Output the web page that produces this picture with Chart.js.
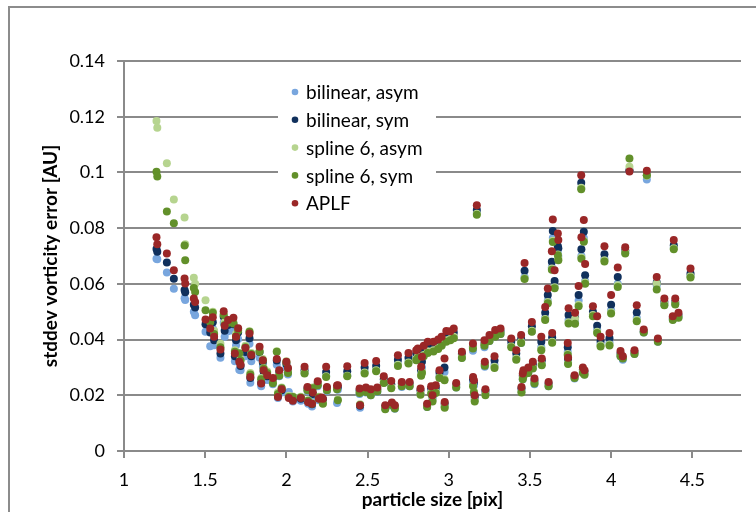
<!DOCTYPE html>
<html>
<head>
<meta charset="utf-8">
<script src="https://cdn.jsdelivr.net/npm/chart.js@4/dist/chart.umd.min.js"></script>
<style>
  html, body { margin: 0; padding: 0; background: #fff; }
  #wrap { position: relative; width: 756px; height: 512px; overflow: hidden; }
  #frame { position: absolute; left: 8px; top: 6px; width: 800px; height: 600px; border: 2px solid #8c8c8c; }
  canvas { position: absolute; left: 0; top: 0; }
</style>
</head>
<body>
<div id="wrap"><div id="frame"></div><canvas id="chart" width="756" height="512"></canvas></div>
<script>
const FONT = 'Lato, "Open Sans", sans-serif'

const particleSize = [
  1.200, 1.205, 1.264, 1.307, 1.373, 1.377, 1.430, 1.438, 1.502, 1.531,
  1.547, 1.555, 1.594, 1.614, 1.620, 1.641, 1.674, 1.683, 1.690, 1.703,
  1.710, 1.718, 1.748, 1.773, 1.778, 1.784, 1.835, 1.845, 1.855, 1.860,
  1.882, 1.917, 1.941, 1.948, 1.956, 1.971, 2.000, 2.010, 2.015, 2.040,
  2.089, 2.112, 2.130, 2.134, 2.158, 2.163, 2.193, 2.200, 2.217, 2.225,
  2.245, 2.250, 2.312, 2.317, 2.375, 2.451, 2.454, 2.482, 2.490, 2.520,
  2.553, 2.560, 2.600, 2.609, 2.646, 2.650, 2.668, 2.687, 2.711, 2.752,
  2.759, 2.800, 2.810, 2.826, 2.830, 2.835, 2.846, 2.867, 2.871, 2.892,
  2.900, 2.906, 2.920, 2.935, 2.943, 2.956, 2.974, 2.975, 2.985, 3.010,
  3.031, 3.046, 3.081, 3.149, 3.150, 3.155, 3.160, 3.173, 3.220, 3.222,
  3.226, 3.251, 3.282, 3.286, 3.319, 3.385, 3.416, 3.446, 3.448, 3.456,
  3.460, 3.467, 3.490, 3.512, 3.518, 3.528, 3.570, 3.573, 3.594, 3.610,
  3.615, 3.635, 3.637, 3.641, 3.652, 3.672, 3.675, 3.733, 3.735, 3.738,
  3.775, 3.778, 3.800, 3.816, 3.817, 3.826, 3.832, 3.836, 3.840, 3.888,
  3.914, 3.935, 3.959, 3.990, 4.000, 4.041, 4.058, 4.072, 4.087, 4.113,
  4.144, 4.158, 4.201, 4.220, 4.281, 4.288, 4.328, 4.380, 4.386, 4.395, 4.415, 4.489,
]

const aplf = [
  0.0767, 0.0742, 0.0709, 0.0649, 0.0619, 0.0601, 0.0547, 0.0535, 0.0472, 0.0440,
  0.0480, 0.0410, 0.0364, 0.0502, 0.0450, 0.0470, 0.0478, 0.0350, 0.0410, 0.0441,
  0.0320, 0.0310, 0.0370, 0.0422, 0.0266, 0.0345, 0.0374, 0.0242, 0.0326, 0.0290,
  0.0272, 0.0262, 0.0330, 0.0194, 0.0290, 0.0222, 0.0320, 0.0298, 0.0190, 0.0180,
  0.0190, 0.0302, 0.0230, 0.0175, 0.0170, 0.0210, 0.0250, 0.0188, 0.0192, 0.0188,
  0.0302, 0.0230, 0.0235, 0.0236, 0.0304, 0.0224, 0.0164, 0.0316, 0.0228, 0.0222,
  0.0323, 0.0228, 0.0268, 0.0164, 0.0251, 0.0174, 0.0164, 0.0344, 0.0248, 0.0352,
  0.0248, 0.0362, 0.0368, 0.0224, 0.0302, 0.0338, 0.0378, 0.0170, 0.0392, 0.0232,
  0.0200, 0.0392, 0.0236, 0.0400, 0.0290, 0.0410, 0.0332, 0.0176, 0.0431, 0.0430,
  0.0440, 0.0244, 0.0356, 0.0386, 0.0266, 0.0254, 0.0200, 0.0882, 0.0398, 0.0320,
  0.0222, 0.0416, 0.0340, 0.0434, 0.0440, 0.0404, 0.0362, 0.0416, 0.0230, 0.0278,
  0.0290, 0.0675, 0.0300, 0.0463, 0.0320, 0.0260, 0.0410, 0.0332, 0.0517, 0.0583,
  0.0248, 0.0717, 0.0424, 0.0831, 0.0649, 0.0781, 0.0757, 0.0388, 0.0335, 0.0512,
  0.0272, 0.0496, 0.0592, 0.0990, 0.0767, 0.0300, 0.0829, 0.0290, 0.0671, 0.0520,
  0.0484, 0.0410, 0.0735, 0.0424, 0.0560, 0.0659, 0.0359, 0.0340, 0.0731, 0.1003,
  0.0362, 0.0523, 0.0436, 0.1006, 0.0625, 0.0404, 0.0547, 0.0484, 0.0757, 0.0547, 0.0496, 0.0655,
]

const bilinearSym = [
  0.0725, 0.0715, 0.0677, 0.0618, 0.0578, 0.0570, 0.0525, 0.0515, 0.0455, 0.0425,
  0.0462, 0.0398, 0.0350, 0.0482, 0.0432, 0.0452, 0.0455, 0.0340, 0.0398, 0.0425,
  0.0330, 0.0305, 0.0355, 0.0405, 0.0262, 0.0340, 0.0355, 0.0245, 0.0318, 0.0285,
  0.0268, 0.0255, 0.0325, 0.0198, 0.0282, 0.0218, 0.0312, 0.0290, 0.0195, 0.0185,
  0.0188, 0.0290, 0.0225, 0.0178, 0.0168, 0.0205, 0.0242, 0.0190, 0.0188, 0.0186,
  0.0284, 0.0225, 0.0228, 0.0230, 0.0286, 0.0218, 0.0162, 0.0300, 0.0222, 0.0215,
  0.0306, 0.0222, 0.0258, 0.0160, 0.0240, 0.0170, 0.0160, 0.0328, 0.0242, 0.0335,
  0.0242, 0.0350, 0.0355, 0.0218, 0.0290, 0.0320, 0.0362, 0.0165, 0.0378, 0.0225,
  0.0195, 0.0375, 0.0228, 0.0388, 0.0282, 0.0395, 0.0300, 0.0170, 0.0415, 0.0418,
  0.0425, 0.0238, 0.0348, 0.0375, 0.0258, 0.0246, 0.0195, 0.0865, 0.0385, 0.0312,
  0.0215, 0.0405, 0.0325, 0.0422, 0.0430, 0.0392, 0.0350, 0.0402, 0.0225, 0.0270,
  0.0282, 0.0647, 0.0292, 0.0448, 0.0310, 0.0252, 0.0392, 0.0325, 0.0496, 0.0560,
  0.0242, 0.0679, 0.0408, 0.0790, 0.0610, 0.0735, 0.0728, 0.0372, 0.0330, 0.0488,
  0.0268, 0.0478, 0.0560, 0.0963, 0.0724, 0.0292, 0.0787, 0.0285, 0.0631, 0.0500,
  0.0450, 0.0395, 0.0706, 0.0405, 0.0525, 0.0625, 0.0350, 0.0335, 0.0720, 0.1008,
  0.0355, 0.0497, 0.0430, 0.0990, 0.0605, 0.0398, 0.0535, 0.0478, 0.0739, 0.0535, 0.0488, 0.0637,
]

const bilinearAsym = [
  0.0690, 0.0688, 0.0641, 0.0582, 0.0548, 0.0542, 0.0500, 0.0487, 0.0428, 0.0376,
  0.0440, 0.0380, 0.0335, 0.0460, 0.0410, 0.0430, 0.0432, 0.0322, 0.0380, 0.0402,
  0.0292, 0.0290, 0.0340, 0.0385, 0.0245, 0.0322, 0.0335, 0.0232, 0.0302, 0.0270,
  0.0255, 0.0240, 0.0310, 0.0190, 0.0268, 0.0210, 0.0298, 0.0275, 0.0212, 0.0178,
  0.0180, 0.0280, 0.0215, 0.0170, 0.0160, 0.0195, 0.0232, 0.0182, 0.0180, 0.0178,
  0.0270, 0.0215, 0.0172, 0.0220, 0.0272, 0.0205, 0.0155, 0.0285, 0.0210, 0.0200,
  0.0292, 0.0212, 0.0245, 0.0152, 0.0228, 0.0162, 0.0152, 0.0312, 0.0230, 0.0320,
  0.0232, 0.0335, 0.0340, 0.0205, 0.0276, 0.0300, 0.0345, 0.0158, 0.0362, 0.0212,
  0.0185, 0.0360, 0.0215, 0.0372, 0.0268, 0.0380, 0.0284, 0.0160, 0.0400, 0.0405,
  0.0410, 0.0228, 0.0335, 0.0360, 0.0245, 0.0235, 0.0185, 0.0855, 0.0372, 0.0302,
  0.0205, 0.0395, 0.0310, 0.0412, 0.0420, 0.0378, 0.0335, 0.0388, 0.0215, 0.0258,
  0.0270, 0.0625, 0.0280, 0.0430, 0.0298, 0.0240, 0.0372, 0.0312, 0.0478, 0.0540,
  0.0232, 0.0660, 0.0395, 0.0765, 0.0590, 0.0710, 0.0700, 0.0355, 0.0318, 0.0470,
  0.0260, 0.0470, 0.0540, 0.0943, 0.0700, 0.0282, 0.0765, 0.0275, 0.0610, 0.0490,
  0.0435, 0.0385, 0.0690, 0.0390, 0.0505, 0.0600, 0.0340, 0.0328, 0.0712, 0.1005,
  0.0348, 0.0478, 0.0425, 0.0975, 0.0595, 0.0392, 0.0525, 0.0472, 0.0730, 0.0528, 0.0480, 0.0628,
]

const spline6Asym = [
  0.1185, 0.1160, 0.1033, 0.0903, 0.0838, 0.0742, 0.0622, 0.0600, 0.0541, 0.0470,
  0.0500, 0.0432, 0.0385, 0.0492, 0.0462, 0.0468, 0.0462, 0.0362, 0.0420, 0.0436,
  0.0348, 0.0330, 0.0378, 0.0430, 0.0280, 0.0352, 0.0360, 0.0262, 0.0330, 0.0298,
  0.0285, 0.0248, 0.0358, 0.0210, 0.0275, 0.0228, 0.0322, 0.0285, 0.0198, 0.0196,
  0.0195, 0.0282, 0.0220, 0.0182, 0.0172, 0.0228, 0.0240, 0.0195, 0.0185, 0.0172,
  0.0268, 0.0220, 0.0225, 0.0185, 0.0270, 0.0212, 0.0168, 0.0282, 0.0215, 0.0205,
  0.0290, 0.0218, 0.0248, 0.0154, 0.0230, 0.0168, 0.0157, 0.0310, 0.0235, 0.0318,
  0.0236, 0.0330, 0.0338, 0.0206, 0.0274, 0.0285, 0.0345, 0.0162, 0.0358, 0.0210,
  0.0182, 0.0362, 0.0212, 0.0370, 0.0265, 0.0382, 0.0258, 0.0160, 0.0398, 0.0402,
  0.0410, 0.0232, 0.0338, 0.0372, 0.0236, 0.0214, 0.0182, 0.0852, 0.0382, 0.0310,
  0.0205, 0.0400, 0.0302, 0.0415, 0.0425, 0.0376, 0.0332, 0.0392, 0.0213, 0.0262,
  0.0272, 0.0620, 0.0285, 0.0432, 0.0300, 0.0245, 0.0366, 0.0312, 0.0474, 0.0535,
  0.0236, 0.0655, 0.0392, 0.0755, 0.0588, 0.0705, 0.0690, 0.0348, 0.0316, 0.0462,
  0.0265, 0.0475, 0.0525, 0.0945, 0.0695, 0.0285, 0.0755, 0.0278, 0.0605, 0.0488,
  0.0428, 0.0380, 0.0685, 0.0382, 0.0498, 0.0595, 0.0345, 0.0335, 0.0714, 0.1020,
  0.0352, 0.0470, 0.0428, 0.0988, 0.0601, 0.0395, 0.0528, 0.0475, 0.0728, 0.0530, 0.0482, 0.0627,
]

const spline6Sym = [
  0.1002, 0.0985, 0.0860, 0.0818, 0.0738, 0.0685, 0.0585, 0.0571, 0.0505, 0.0462,
  0.0496, 0.0420, 0.0372, 0.0488, 0.0452, 0.0460, 0.0458, 0.0356, 0.0412, 0.0432,
  0.0351, 0.0325, 0.0372, 0.0428, 0.0275, 0.0348, 0.0356, 0.0258, 0.0325, 0.0295,
  0.0280, 0.0243, 0.0356, 0.0205, 0.0270, 0.0225, 0.0318, 0.0280, 0.0194, 0.0194,
  0.0192, 0.0278, 0.0218, 0.0180, 0.0170, 0.0225, 0.0236, 0.0192, 0.0182, 0.0170,
  0.0266, 0.0218, 0.0222, 0.0182, 0.0268, 0.0208, 0.0165, 0.0278, 0.0212, 0.0200,
  0.0286, 0.0214, 0.0244, 0.0150, 0.0225, 0.0165, 0.0153, 0.0305, 0.0232, 0.0314,
  0.0232, 0.0326, 0.0334, 0.0202, 0.0270, 0.0280, 0.0340, 0.0158, 0.0352, 0.0205,
  0.0178, 0.0357, 0.0208, 0.0366, 0.0262, 0.0378, 0.0254, 0.0155, 0.0392, 0.0398,
  0.0405, 0.0228, 0.0334, 0.0368, 0.0232, 0.0210, 0.0178, 0.0848, 0.0378, 0.0306,
  0.0200, 0.0395, 0.0298, 0.0410, 0.0420, 0.0372, 0.0328, 0.0388, 0.0210, 0.0258,
  0.0268, 0.0617, 0.0280, 0.0428, 0.0296, 0.0242, 0.0362, 0.0308, 0.0470, 0.0530,
  0.0232, 0.0651, 0.0389, 0.0750, 0.0584, 0.0703, 0.0685, 0.0345, 0.0312, 0.0458,
  0.0262, 0.0457, 0.0520, 0.0940, 0.0690, 0.0280, 0.0751, 0.0274, 0.0600, 0.0484,
  0.0424, 0.0375, 0.0680, 0.0379, 0.0494, 0.0589, 0.0340, 0.0332, 0.0709, 0.1050,
  0.0348, 0.0466, 0.0425, 0.0990, 0.0580, 0.0392, 0.0523, 0.0470, 0.0724, 0.0526, 0.0478, 0.0623,
]

const seriesLabels = ['bilinear, asym', 'bilinear, sym', 'spline 6, asym', 'spline 6, sym', 'APLF']
const seriesColors = ['#78a6de', '#10305c', '#b6d48f', '#62902a', '#9a2727']
const seriesValues = [bilinearAsym, bilinearSym, spline6Asym, spline6Sym, aplf]

const gridGray = '#8a8a8a'

// Excel style numbers: 1, 1.5, 2 and 0.1 instead of 1.0, 2.0, 0.10
const plainNumber = (v) => String(+Number(v).toFixed(3))

// legend sits inside the plot on a white box, like the original
const insideLegend = {
  id: 'insideLegend',
  afterDatasetsDraw(chart) {
    const { ctx, chartArea } = chart
    const left = chartArea.left + 154
    const top = chartArea.top + 16
    ctx.save()
    ctx.fillStyle = '#fff'
    ctx.fillRect(left, top, 158, 142)
    ctx.font = '19px ' + FONT
    ctx.textBaseline = 'middle'
    chart.data.datasets.forEach((ds, i) => {
      const y = top + 15 + i * 27.8
      ctx.fillStyle = ds.backgroundColor
      ctx.beginPath()
      ctx.arc(left + 17, y, 3.3, 0, Math.PI * 2)
      ctx.fill()
      ctx.fillStyle = '#000'
      ctx.fillText(ds.label, left + 28, y + 1)
    })
    ctx.restore()
  },
}

const datasets = seriesLabels.map((label, k) => ({
  label,
  data: particleSize.map((x, i) => ({ x, y: seriesValues[k][i] })),
  backgroundColor: seriesColors[k],
  borderColor: seriesColors[k],
  pointRadius: 4,
  pointBorderWidth: 0,
  order: 4 - k,
}))

new Chart(document.getElementById('chart'), {
  type: 'scatter',
  data: { datasets },
  plugins: [insideLegend],
  options: {
    responsive: false,
    animation: false,
    devicePixelRatio: 1,
    layout: { padding: { left: 0, top: 61, right: 15, bottom: 0 } },
    plugins: { legend: { display: false }, tooltip: { enabled: false } },
    scales: {
      x: {
        type: 'linear',
        min: 1,
        max: 4.8,
        afterBuildTicks: (s) => {
          s.ticks = s.ticks.filter((t) => t.value <= 4.5)
        },
        afterFit: (s) => {
          s.height = 61
        },
        ticks: { stepSize: 0.5, color: '#000', padding: 11, font: { family: FONT, size: 18 }, callback: plainNumber },
        grid: { drawOnChartArea: false, drawTicks: true, tickLength: 7, color: gridGray, lineWidth: 2 },
        border: { color: gridGray, width: 2 },
        title: {
          display: true,
          text: 'particle size [pix]',
          color: '#000',
          font: { family: FONT, size: 19, weight: 'bold' },
          padding: { top: 0, bottom: 1 },
        },
      },
      y: {
        min: 0,
        max: 0.14,
        afterFit: (s) => {
          s.width = 124
        },
        ticks: { stepSize: 0.02, color: '#000', padding: 12, font: { family: FONT, size: 18 }, callback: plainNumber },
        grid: { color: gridGray, lineWidth: 2, tickLength: 7 },
        border: { color: gridGray, width: 2 },
        title: {
          display: true,
          text: 'stddev vorticity error [AU]',
          color: '#000',
          font: { family: FONT, size: 19, weight: 'bold' },
          padding: { top: 39, bottom: 0 },
        },
      },
    },
  },
})
</script>
</body>
</html>
